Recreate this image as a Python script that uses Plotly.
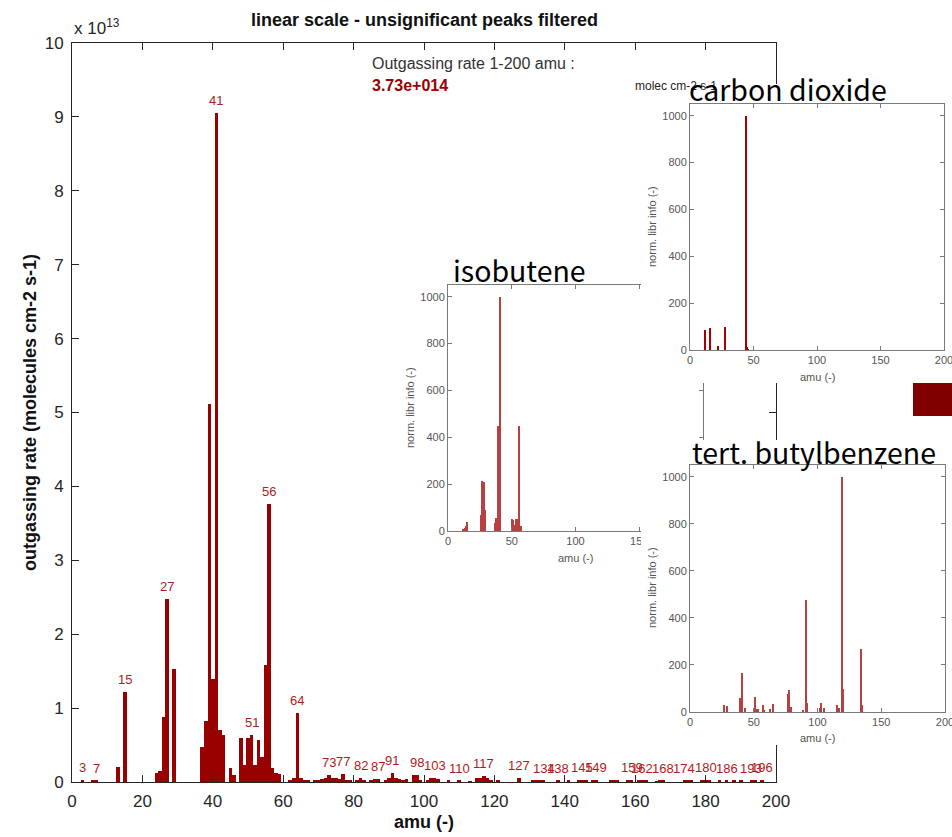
import plotly.graph_objects as go

W, H = 952, 837

# ---- outgassing spectrum, 1e13 molecules cm-2 s-1 per amu ----
amu = [3, 6, 7, 13, 15, 24, 25, 26, 27, 29,
       37, 38, 39, 40, 41, 42, 43, 45, 46, 48, 49, 50, 51, 52, 53, 54, 55, 56, 57, 58, 59,
       62, 63, 64, 65, 66, 67, 69, 70,
       71, 72, 73, 74, 75, 76, 77, 78, 79, 81, 82, 83, 85, 86, 87, 89, 90, 91, 92, 93, 94, 95,
       97, 98, 99, 101, 102, 103, 104, 107, 110, 113, 115, 116, 117, 118, 119, 121, 127,
       131, 132, 133, 134, 138, 141, 144, 145, 146, 148, 149, 153, 154, 155, 158, 159,
       161, 162, 163, 166, 167, 168, 174, 175, 176, 179, 180, 181, 184, 186, 188, 190,
       193, 194, 196]
rate = [0.03, 0.015, 0.015, 0.20, 1.22, 0.12, 0.15, 0.88, 2.47, 1.53,
        0.48, 0.82, 5.11, 1.39, 9.05, 0.70, 0.64, 0.185, 0.095, 0.60, 0.23, 0.60, 0.64, 0.23, 0.57, 0.34, 1.58, 3.76, 0.19, 0.125, 0.11,
        0.03, 0.05, 0.94, 0.06, 0.02, 0.015, 0.02, 0.03,
        0.04, 0.05, 0.10, 0.06, 0.05, 0.04, 0.11, 0.03, 0.03, 0.02, 0.05, 0.02, 0.03, 0.04, 0.04, 0.02, 0.05, 0.12, 0.06, 0.04, 0.02, 0.04,
        0.09, 0.09, 0.02, 0.02, 0.06, 0.06, 0.04, 0.015, 0.02, 0.01, 0.06, 0.06, 0.08, 0.05, 0.02, 0.02, 0.06,
        0.02, 0.03, 0.03, 0.02, 0.02, 0.02, 0.02, 0.03, 0.02, 0.03, 0.03, 0.015, 0.02, 0.02, 0.02, 0.03,
        0.02, 0.02, 0.015, 0.01, 0.015, 0.015, 0.02, 0.02, 0.02, 0.03, 0.03, 0.02, 0.015, 0.02, 0.015, 0.015,
        0.015, 0.02, 0.03]

peak_amu = [3, 7, 15, 27, 41, 51, 56, 64, 73, 77, 82, 87, 91, 98, 103, 110, 117,
            127, 134, 138, 145, 149, 159, 162, 168, 174, 180, 186, 193, 196]

x_ticks = list(range(0, 201, 20))
y_ticks = list(range(0, 11))

# ---- library reference spectra (normalised to 1000) ----
iso_amu = [12, 13, 14, 15, 26, 27, 28, 29, 37, 38, 39, 40, 41, 50, 51, 52, 53, 55, 56, 57]
iso_int = [8, 12, 20, 40, 70, 215, 210, 90, 35, 55, 450, 80, 1000, 50, 45, 25, 50, 50, 450, 20]

co2_amu = [12, 16, 22, 28, 44, 45, 46]
co2_int = [87, 96, 19, 98, 1000, 12, 4]

tbb_amu = [27, 29, 39, 41, 43, 50, 51, 52, 53, 57, 58, 63, 65, 77, 78, 79, 89, 91, 92,
           102, 103, 105, 115, 117, 119, 120, 134, 135]
tbb_int = [28, 26, 60, 166, 17, 12, 64, 14, 14, 28, 10, 12, 35, 78, 92, 20, 10, 478, 38,
           15, 40, 15, 28, 15, 1000, 98, 268, 28]

inset_x_ticks = [0, 50, 100, 150, 200]
inset_y_ticks = [0, 200, 400, 600, 800, 1000]

RED = "#990000"
LABEL_RED = "#b01a1a"
FONT = "Liberation Sans, Arial, sans-serif"
TITLE_FONT = "Noto Sans CJK JP, Noto Sans, sans-serif"


def px(x):
    return x / W


def py(y):
    return 1 - y / H


fig = go.Figure()

# main spectrum
fig.add_trace(go.Bar(x=amu, y=rate, width=1.0, marker=dict(color=RED, line=dict(width=0)),
                     xaxis="x", yaxis="y", showlegend=False))

# insets, each preceded by an empty white panel that hides what lies beneath
fig.add_trace(go.Bar(x=iso_amu, y=iso_int, width=0.9, marker=dict(color="#b84040", line=dict(width=0)),
                     xaxis="x2", yaxis="y2", showlegend=False))
fig.add_trace(go.Scatter(x=[None], y=[None], xaxis="x3", yaxis="y3", showlegend=False, hoverinfo="skip"))
fig.add_trace(go.Bar(x=co2_amu, y=co2_int, width=0.9, marker=dict(color="#a80000", line=dict(width=0)),
                     xaxis="x4", yaxis="y4", showlegend=False))
fig.add_trace(go.Scatter(x=[None], y=[None], xaxis="x5", yaxis="y5", showlegend=False, hoverinfo="skip"))
fig.add_trace(go.Bar(x=tbb_amu, y=tbb_int, width=0.9, marker=dict(color="#b84040", line=dict(width=0)),
                     xaxis="x6", yaxis="y6", showlegend=False))

main_ax = dict(showline=True, linecolor="#262626", linewidth=1, mirror="ticks", ticks="inside",
               ticklen=7, tickcolor="#262626", showgrid=False, zeroline=False, automargin=False,
               tickfont=dict(family=FONT, size=17, color="#262626"))

inset_ax = dict(showline=True, linecolor="#7a7a7a", linewidth=1, mirror="ticks", ticks="inside",
                ticklen=4, tickcolor="#7a7a7a", showgrid=False, zeroline=False, automargin=False,
                ticklabeloverflow="allow",
                tickfont=dict(family=FONT, size=11, color="#555555"))

hidden_ax = dict(visible=False, range=[0, 1], fixedrange=True, automargin=False)


def inset(x0, x1, y0, y1, anchor):
    xa = dict(inset_ax, domain=[px(x0), px(x1)], range=[0, 200], tickvals=inset_x_ticks, anchor="y" + anchor)
    ya = dict(inset_ax, domain=[py(y1), py(y0)], range=[0, 1050], tickvals=inset_y_ticks, anchor="x" + anchor)
    return xa, ya


x2, y2 = inset(448, 703, 285, 531, "2")
x4, y4 = inset(690, 944, 104, 350, "4")
x6, y6 = inset(690, 945, 465, 712, "6")

fig.update_layout(
    template="none",
    width=W, height=H, autosize=False,
    margin=dict(l=0, r=0, t=0, b=0, pad=0),
    paper_bgcolor="white", plot_bgcolor="white",
    bargap=0, barmode="overlay",
    xaxis=dict(main_ax, domain=[px(72), px(776)], range=[0, 200], tickvals=x_ticks, anchor="y",
               ticklabelstandoff=4),
    yaxis=dict(main_ax, domain=[py(782), py(43)], range=[0, 10], tickvals=y_ticks, anchor="x",
               ticklabelstandoff=4),
    xaxis2=x2, yaxis2=y2,
    xaxis3=dict(hidden_ax, domain=[px(641), 1.0], anchor="y3"),
    yaxis3=dict(hidden_ax, domain=[py(383), py(84)], anchor="x3"),
    xaxis4=x4, yaxis4=y4,
    xaxis5=dict(hidden_ax, domain=[px(641), 1.0], anchor="y5"),
    yaxis5=dict(hidden_ax, domain=[py(745), py(440)], anchor="x5"),
    xaxis6=x6, yaxis6=y6,
)

ann = []


def text(x, y, s, size, color="#000000", bold=False, xanchor="center", yanchor="middle",
         family=FONT, angle=0):
    if bold:
        s = "<b>" + s + "</b>"
    ann.append(dict(x=px(x), y=py(y), xref="paper", yref="paper", text=s, showarrow=False,
                    xanchor=xanchor, yanchor=yanchor, textangle=angle,
                    font=dict(family=family, size=size, color=color)))


# titles and axis labels of the main plot
text(424, 20, "linear scale - unsignificant peaks filtered", 18, "#111111", bold=True)
text(72, 27, "x 10<sup>13</sup>", 17, "#262626", xanchor="left")
text(424, 822, "amu (-)", 18, "#111111", bold=True)
text(30, 413, "outgassing rate (molecules cm-2 s-1)", 18, "#111111", bold=True, angle=-90)
text(370, 64, "Outgassing rate 1-200 amu :", 16, "#333333", xanchor="left")
text(370, 85, "3.73e+014", 16, "#990000", bold=True, xanchor="left")
text(633, 86, "molec cm-2 s-1", 12, "#222222", xanchor="left")

# peak labels sit on top of their bars
lookup = dict(zip(amu, rate))
for m in peak_amu:
    ann.append(dict(x=m, y=lookup.get(m, 0), xref="x", yref="y", text=str(m), showarrow=False,
                    yanchor="bottom", yshift=3,
                    font=dict(family=FONT, size=13, color=LABEL_RED)))

# inset titles and labels
text(519, 270, "isobutene", 28.5, "#000000", family=TITLE_FONT)
text(410, 408, "norm. libr info (-)", 11, "#555555", angle=-90)
text(575, 558, "amu (-)", 11, "#555555")

text(788, 88, "carbon dioxide", 28.5, "#000000", family=TITLE_FONT)
text(652, 227, "norm. libr info (-)", 11, "#555555", angle=-90)
text(817, 377, "amu (-)", 11, "#555555")

text(814, 452, "tert. butylbenzene", 28.5, "#000000", family=TITLE_FONT)
text(652, 588, "norm. libr info (-)", 11, "#555555", angle=-90)
text(817, 738, "amu (-)", 11, "#555555")

fig.update_layout(annotations=ann)

# colour patch at the right edge
fig.add_shape(type="rect", xref="paper", yref="paper", x0=px(913), x1=1.0, y0=py(416), y1=py(383),
              fillcolor="#800000", line=dict(width=0), layer="above")

fig.write_html("out.html")
